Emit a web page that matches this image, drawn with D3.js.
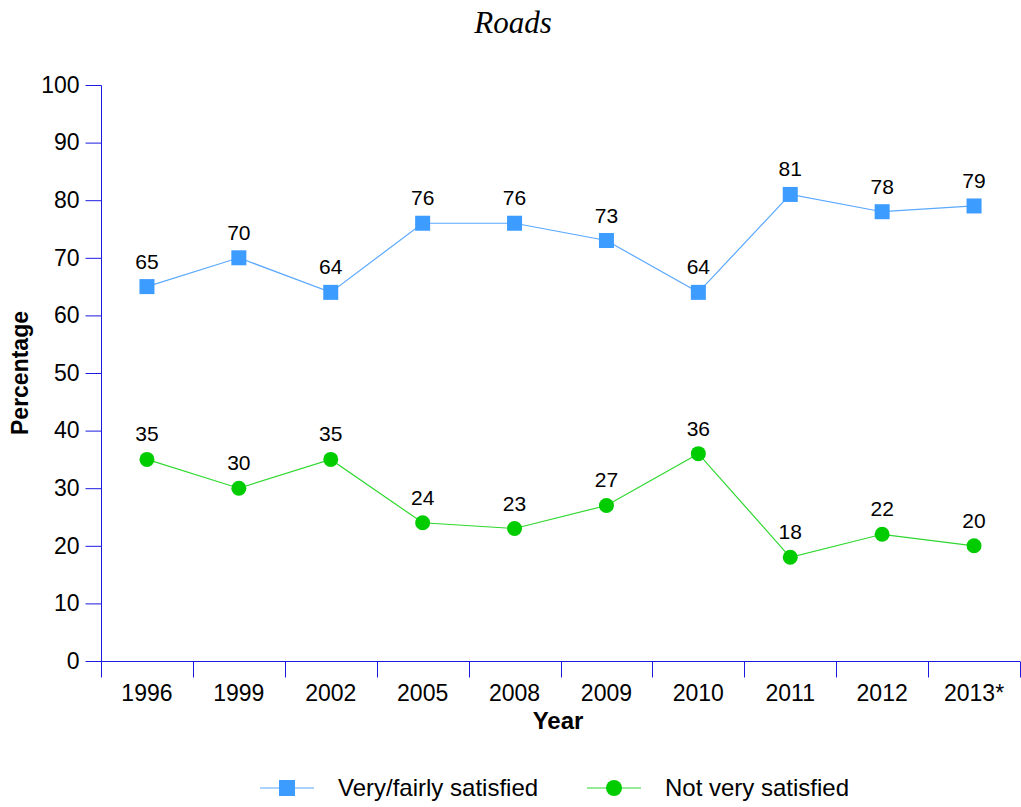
<!DOCTYPE html>
<meta charset="utf-8">
<title>Roads</title>
<style>
body { margin: 0; background: #fff; }
svg { display: block; font-family: "Liberation Sans", Arial, sans-serif; }
</style>
<body>
<script src="https://cdn.jsdelivr.net/npm/d3@7"></script>
<script>
var years = ["1996", "1999", "2002", "2005", "2008", "2009", "2010", "2011", "2012", "2013*"];
var satisfied = [65, 70, 64, 76, 76, 73, 64, 81, 78, 79];
var notSatisfied = [35, 30, 35, 24, 23, 27, 36, 18, 22, 20];
var yTicks = [0, 10, 20, 30, 40, 50, 60, 70, 80, 90, 100];

var width = 1021, height = 807;
var plotLeft = 101, plotRight = 1020, plotTop = 85, plotBottom = 661;
var axisColor = "#1a1ae0";

var svg = d3.select("body").append("svg")
  .attr("width", width)
  .attr("height", height);

var x = d3.scaleBand().domain(years).range([plotLeft, plotRight]);
var y = d3.scaleLinear().domain([0, 100]).range([plotBottom, plotTop]);

// title
svg.append("text")
  .attr("x", 513).attr("y", 33)
  .attr("text-anchor", "middle")
  .style("font-family", "'Liberation Serif', 'DejaVu Serif', serif")
  .style("font-style", "italic")
  .style("font-size", "31px")
  .text("Roads");

// y axis
var yAxis = svg.append("g")
  .attr("transform", "translate(" + (plotLeft + 0.5) + ",0)")
  .call(d3.axisLeft(y).tickValues(yTicks).tickSize(16).tickPadding(6));
yAxis.select(".domain").attr("stroke", axisColor)
  .attr("d", "M0," + (plotTop + 0.5) + "V" + (plotBottom + 0.5));
yAxis.selectAll(".tick line").attr("stroke", axisColor);
yAxis.selectAll(".tick text")
  .style("font-size", "23px")
  .style("font-family", "'Liberation Sans', Arial, sans-serif")
  .attr("fill", "#000");

// x axis
var xAxis = svg.append("g")
  .attr("transform", "translate(0," + (plotBottom + 0.5) + ")");
xAxis.append("line")
  .attr("x1", plotLeft).attr("x2", plotRight)
  .attr("stroke", axisColor);
xAxis.selectAll("line.tk")
  .data(years.concat(["end"]))
  .join("line")
  .attr("class", "tk")
  .attr("x1", (d, i) => Math.round(plotLeft + i * x.step()) + 0.5)
  .attr("x2", (d, i) => Math.round(plotLeft + i * x.step()) + 0.5)
  .attr("y1", 0).attr("y2", 16)
  .attr("stroke", axisColor);
xAxis.selectAll("text")
  .data(years)
  .join("text")
  .attr("x", d => x(d) + x.bandwidth() / 2)
  .attr("y", 39)
  .attr("text-anchor", "middle")
  .style("font-size", "23px")
  .text(d => d);

// axis titles
svg.append("text")
  .attr("transform", "translate(28,373) rotate(-90)")
  .attr("text-anchor", "middle")
  .style("font-size", "23px")
  .style("font-weight", "bold")
  .text("Percentage");
svg.append("text")
  .attr("x", 558).attr("y", 729)
  .attr("text-anchor", "middle")
  .style("font-size", "24px")
  .style("font-weight", "bold")
  .text("Year");

var cx = (d, i) => x(years[i]) + x.bandwidth() / 2;
var line = d3.line().x(cx).y(d => y(d));

// satisfied series
svg.append("path")
  .datum(satisfied)
  .attr("d", line)
  .attr("fill", "none")
  .attr("stroke", "#5aa8ff")
  .attr("stroke-width", 1.2);
svg.selectAll("rect.sat")
  .data(satisfied)
  .join("rect")
  .attr("class", "sat")
  .attr("x", (d, i) => cx(d, i) - 7.5)
  .attr("y", d => y(d) - 7.5)
  .attr("width", 15).attr("height", 15)
  .attr("fill", "#3c9cff");
svg.selectAll("text.sat")
  .data(satisfied)
  .join("text")
  .attr("class", "sat")
  .attr("x", cx)
  .attr("y", d => y(d) - 18)
  .attr("text-anchor", "middle")
  .style("font-size", "21px")
  .text(d => d);

// not satisfied series
svg.append("path")
  .datum(notSatisfied)
  .attr("d", line)
  .attr("fill", "none")
  .attr("stroke", "#2ed82e")
  .attr("stroke-width", 1.2);
svg.selectAll("circle.not")
  .data(notSatisfied)
  .join("circle")
  .attr("class", "not")
  .attr("cx", cx)
  .attr("cy", d => y(d))
  .attr("r", 7.5)
  .attr("fill", "#00cc00");
svg.selectAll("text.not")
  .data(notSatisfied)
  .join("text")
  .attr("class", "not")
  .attr("x", cx)
  .attr("y", d => y(d) - 18)
  .attr("text-anchor", "middle")
  .style("font-size", "21px")
  .text(d => d);

// legend
var legend = [
  { name: "Very/fairly satisfied", x: 260, line: "#5aa8ff", fill: "#3c9cff", shape: "square" },
  { name: "Not very satisfied", x: 587, line: "#2ed82e", fill: "#00cc00", shape: "circle" }
];
var lg = svg.selectAll("g.legend")
  .data(legend)
  .join("g")
  .attr("class", "legend")
  .attr("transform", d => "translate(" + d.x + ",788)");
lg.append("line")
  .attr("x1", 0).attr("x2", 54)
  .attr("stroke", d => d.line)
  .attr("stroke-width", 1.2);
lg.filter(d => d.shape == "square").append("rect")
  .attr("x", 19).attr("y", -8)
  .attr("width", 16).attr("height", 16)
  .attr("fill", d => d.fill);
lg.filter(d => d.shape == "circle").append("circle")
  .attr("cx", 27).attr("r", 8)
  .attr("fill", d => d.fill);
lg.append("text")
  .attr("x", 78).attr("y", 8)
  .style("font-size", "24px")
  .text(d => d.name);
</script>
</body>
